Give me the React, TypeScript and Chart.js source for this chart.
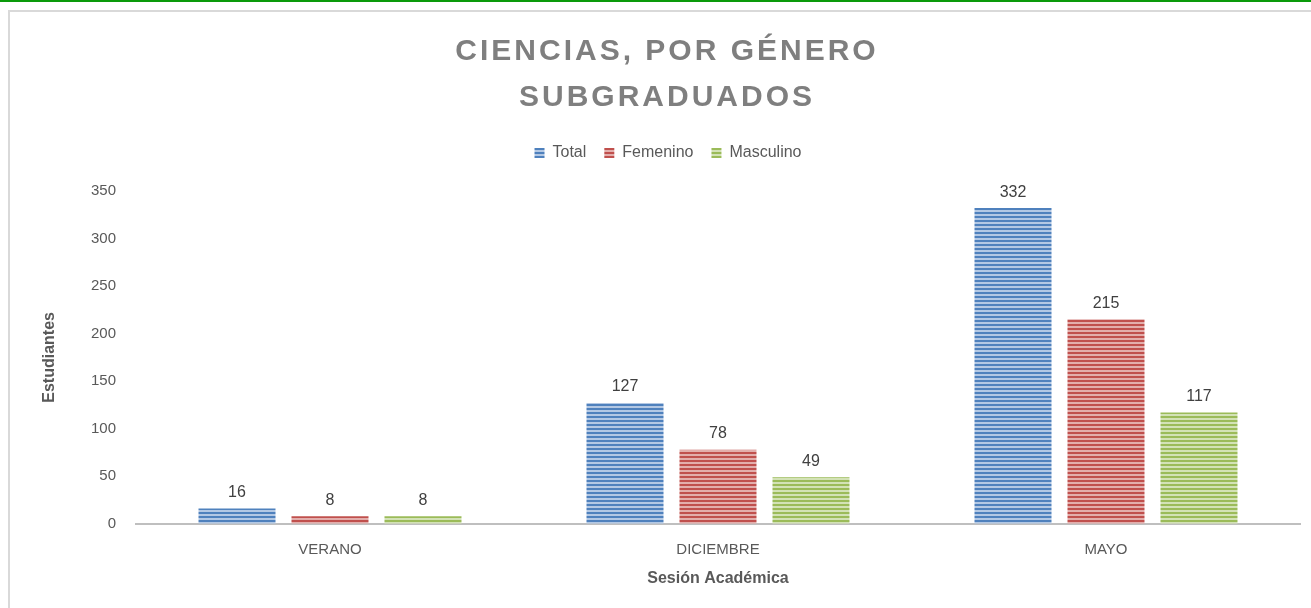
import React, { useEffect, useRef } from "react";
import { Chart, registerables } from "chart.js";

Chart.register(...registerables);

const categories = ["VERANO", "DICIEMBRE", "MAYO"];
const totalValues = [16, 127, 332];
const femeninoValues = [8, 78, 215];
const masculinoValues = [8, 49, 117];
const seriesNames = ["Total", "Femenino", "Masculino"];
const titleLines = ["CIENCIAS, POR GÉNERO", "SUBGRADUADOS"];
const yTitle = "Estudiantes";
const xTitle = "Sesión Académica";

const FONT = "'Liberation Sans', 'DejaVu Sans', sans-serif";

function stripe(dark: string, light: string): CanvasPattern | string {
  const c = document.createElement("canvas");
  c.width = 4;
  c.height = 4;
  const g = c.getContext("2d");
  if (!g) return dark;
  g.fillStyle = light;
  g.fillRect(0, 0, 4, 4);
  g.fillStyle = dark;
  g.fillRect(0, 0, 4, 2);
  const p = g.createPattern(c, "repeat");
  return p || dark;
}

export default function App() {
  const ref = useRef<HTMLCanvasElement | null>(null);

  useEffect(() => {
    if (!ref.current) return;
    const blue = stripe("#4f81bd", "#b3c8e4");
    const red = stripe("#c0504d", "#e3aeac");
    const green = stripe("#9bbb59", "#d3e2b6");

    const titlePlugin = {
      id: "customTitle",
      afterDraw(chart: any) {
        const ctx = chart.ctx;
        ctx.save();
        ctx.fillStyle = "#7f7f7f";
        ctx.font = `bold 30px ${FONT}`;
        (ctx as any).letterSpacing = "3px";
        ctx.textAlign = "center";
        ctx.textBaseline = "middle";
        ctx.fillText(titleLines[0], 667, 52);
        ctx.fillText(titleLines[1], 667, 98);
        ctx.restore();
      },
    };

    const labelPlugin = {
      id: "valueLabels",
      afterDatasetsDraw(chart: any) {
        const ctx = chart.ctx;
        ctx.save();
        ctx.fillStyle = "#404040";
        ctx.font = `16px ${FONT}`;
        ctx.textAlign = "center";
        ctx.textBaseline = "middle";
        chart.data.datasets.forEach((ds: any, i: number) => {
          const meta = chart.getDatasetMeta(i);
          meta.data.forEach((bar: any, j: number) => {
            ctx.fillText(String(ds.data[j]), bar.x, bar.y - 16);
          });
        });
        ctx.restore();
      },
    };

    const legendHeight = {
      id: "legendHeight",
      beforeInit(chart: any) {
        const orig = chart.legend.fit;
        chart.legend.fit = function () {
          orig.bind(chart.legend)();
          this.height += 20;
        };
      },
    };

    const chart = new Chart(ref.current, {
      type: "bar",
      data: {
        labels: categories,
        datasets: [
          { label: seriesNames[0], data: totalValues, backgroundColor: blue as any, borderWidth: 0 },
          { label: seriesNames[1], data: femeninoValues, backgroundColor: red as any, borderWidth: 0 },
          { label: seriesNames[2], data: masculinoValues, backgroundColor: green as any, borderWidth: 0 },
        ],
      },
      options: {
        animation: false,
        responsive: false,
        maintainAspectRatio: false,
        datasets: { bar: { categoryPercentage: 0.719, barPercentage: 0.828 } },
        layout: { padding: { top: 127, left: 36, right: 11, bottom: 20 } },
        plugins: {
          title: { display: false },
          tooltip: { enabled: false },
          legend: {
            display: true,
            position: "top",
            labels: {
              boxWidth: 10,
              boxHeight: 10,
              color: "#595959",
              font: { family: FONT, size: 16 },
              padding: 18,
            },
          },
        },
        scales: {
          x: {
            grid: { display: false, drawTicks: false },
            border: { display: true, color: "#bfbfbf", width: 2 },
            ticks: { color: "#595959", font: { family: FONT, size: 15 }, padding: 17 },
            title: {
              display: true,
              text: xTitle,
              color: "#595959",
              font: { family: FONT, size: 16, weight: "bold" },
              padding: { top: -7, bottom: 0 },
            },
          },
          y: {
            min: 0,
            max: 350,
            afterFit(scale: any) {
              scale.width = 100;
            },
            grid: { display: false, drawTicks: false },
            border: { display: false },
            ticks: {
              stepSize: 50,
              color: "#595959",
              font: { family: FONT, size: 15 },
              padding: 20,
            },
            title: {
              display: true,
              text: yTitle,
              color: "#595959",
              font: { family: FONT, size: 16, weight: "bold" },
            },
          },
        },
      },
      plugins: [titlePlugin, labelPlugin, legendHeight],
    });
    return () => chart.destroy();
  }, []);

  return (
    <div style={{ position: "absolute", left: 0, top: 0, width: 1311, height: 608, background: "#fff", overflow: "hidden" }}>
      <div style={{ position: "absolute", left: 0, top: 0, width: 1311, height: 2, background: "#0a9a0a" }} />
      <div
        style={{
          position: "absolute",
          left: 8,
          top: 10,
          width: 1320,
          height: 620,
          borderLeft: "2px solid #d9d9d9",
          borderTop: "2px solid #d9d9d9",
        }}
      />
      <canvas ref={ref} width={1311} height={608} style={{ position: "absolute", left: 0, top: 0, width: 1311, height: 608 }} />
    </div>
  );
}
